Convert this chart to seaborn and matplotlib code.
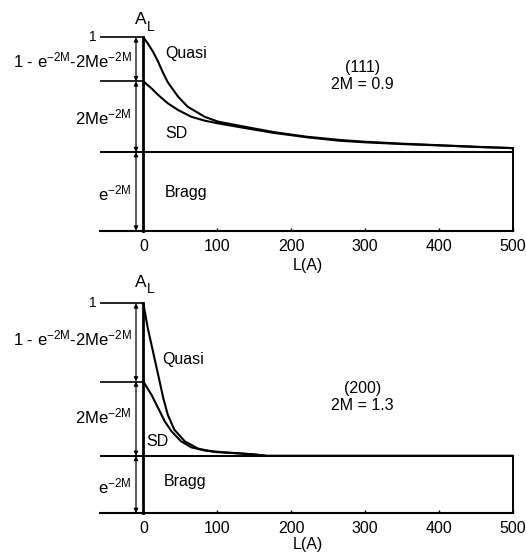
import matplotlib
matplotlib.use("Agg")
import matplotlib.pyplot as plt
import seaborn as sns
import pandas as pd

# ---------------- data ----------------
# top panel (111), 2M = 0.9
top_levels = [0.4066, 0.7725, 1.0]          # e^-2M, e^-2M + 2Me^-2M, 1
top_L_quasi = [0, 6, 13, 20, 27, 33, 47, 60, 83, 101, 131, 176, 221, 266, 300, 350, 400, 450, 500]
top_quasi = [1.0, 0.969, 0.926, 0.874, 0.814, 0.768, 0.693, 0.641, 0.589, 0.564, 0.542,
             0.510, 0.486, 0.469, 0.460, 0.450, 0.442, 0.434, 0.427]
top_L_sd = [0, 11, 20, 33, 47, 65, 83, 101, 131, 176, 221, 266, 300, 350, 400, 450, 500]
top_sd = [0.7725, 0.736, 0.702, 0.659, 0.624, 0.589, 0.569, 0.555, 0.535, 0.506, 0.483,
          0.465, 0.457, 0.448, 0.441, 0.433, 0.427]

# bottom panel (200), 2M = 1.3
bot_levels = [0.2725, 0.627, 1.0]
bot_L_quasi = [0, 6, 13, 20, 27, 33, 42, 56, 74, 96, 131, 150, 167, 500]
bot_quasi = [1.0, 0.882, 0.771, 0.660, 0.548, 0.469, 0.397, 0.342, 0.307, 0.291, 0.284,
             0.279, 0.2725, 0.2725]
bot_L_sd = [0, 11, 20, 29, 38, 51, 65, 83, 110, 131, 150, 167, 500]
bot_sd = [0.627, 0.564, 0.501, 0.437, 0.390, 0.342, 0.313, 0.298, 0.289, 0.284, 0.279,
          0.2725, 0.2725]

x_ticks = [0, 100, 200, 300, 400, 500]
panel_titles = ["(111)\n2M = 0.9", "(200)\n2M = 1.3"]
band_labels = ["1 - e$^{-2M}$-2Me$^{-2M}$", "2Me$^{-2M}$", "e$^{-2M}$"]
region_labels = ["Quasi", "SD", "Bragg"]
x_label = "L(A)"
y_label = "A"
y_sub = "L"

# ---------------- style ----------------
sns.set_style("white")
plt.rcParams["font.family"] = ["Liberation Sans", "DejaVu Sans"]
plt.rcParams["mathtext.default"] = "regular"
plt.rcParams["text.color"] = "black"
plt.rcParams["axes.labelcolor"] = "black"
plt.rcParams["xtick.color"] = "black"
FS = 11.5

fig = plt.figure(figsize=(5.26, 5.54), dpi=100)
ax_top = fig.add_axes([0.1797, 0.58357, 0.8097, 0.34910])
ax_bot = fig.add_axes([0.1797, 0.07401, 0.8097, 0.37852])

XMIN_LINE = -58.5
ARROW_X = -9.9


def draw_panel(ax, levels, Lq, q, Ls, s, title, title_y, text_pos, band_y, al_y, lpad):
    df_q = pd.DataFrame({"L": Lq, "A": q})
    df_s = pd.DataFrame({"L": Ls, "A": s})
    sns.lineplot(data=df_q, x="L", y="A", ax=ax, color="black", lw=1.5,
                 estimator=None, sort=False)
    sns.lineplot(data=df_s, x="L", y="A", ax=ax, color="black", lw=1.5,
                 estimator=None, sort=False)
    ax.set_xlim(-66, 510)
    ax.set_ylim(0, 1)

    bragg, sdl, one = levels
    ax.hlines(bragg, XMIN_LINE, x_ticks[-1], color="black", lw=1.4, clip_on=False)
    ax.hlines([sdl, one], XMIN_LINE, 0, color="black", lw=1.2, clip_on=False)
    ax.vlines(x_ticks[-1], 0, q[-1], color="black", lw=1.4, clip_on=False)

    bounds = [0, bragg, sdl, one]
    for lo, hi in zip(bounds[:-1], bounds[1:]):
        ax.annotate("", xy=(ARROW_X, hi), xytext=(ARROW_X, lo),
                    arrowprops=dict(arrowstyle="<|-|>", lw=0.9, color="black",
                                    mutation_scale=6, shrinkA=0, shrinkB=0),
                    annotation_clip=False)

    for sp in ["top", "right"]:
        ax.spines[sp].set_visible(False)
    ax.spines["left"].set_position(("data", 0))
    ax.spines["left"].set_bounds(0, 1)
    ax.spines["left"].set_linewidth(2.0)
    ax.spines["left"].set_color("black")
    ax.spines["bottom"].set_bounds(XMIN_LINE, x_ticks[-1])
    ax.spines["bottom"].set_linewidth(1.5)
    ax.spines["bottom"].set_color("black")
    ax.set_yticks([])
    ax.set_xticks(x_ticks)
    ax.set_xticklabels([str(t) for t in x_ticks])
    ax.tick_params(axis="x", direction="in", length=2.5, width=1, pad=6,
                   labelsize=FS, colors="black", bottom=True)
    ax.set_xlabel(x_label, fontsize=FS, labelpad=lpad)
    ax.set_ylabel("")

    ax.text(-4, al_y[0], y_label, fontsize=12.5, ha="center", va="center")
    ax.text(9.5, al_y[1], y_sub, fontsize=10, ha="center", va="center")
    ax.text(-63, one, "1", fontsize=FS * 0.85, ha="right", va="center")
    for lab, yy in zip(band_labels, band_y):
        ax.text(-15.5, yy, lab, fontsize=12, ha="right", va="center")
    for lab, (tx, ty) in zip(region_labels, text_pos):
        ax.text(tx, ty, lab, fontsize=FS, ha="left", va="center")
    ax.text(296, title_y, title, fontsize=FS, ha="center", va="center",
            linespacing=1.15)


draw_panel(ax_top, top_levels, top_L_quasi, top_quasi, top_L_sd, top_sd,
           panel_titles[0], 0.80,
           [(29, 0.917), (29, 0.504), (29, 0.195)],
           [0.88, 0.585, 0.195], (1.09, 1.055), 3)
draw_panel(ax_bot, bot_levels, bot_L_quasi, bot_quasi, bot_L_sd, bot_sd,
           panel_titles[1], 0.555,
           [(25, 0.73), (4.6, 0.34), (27, 0.149)],
           [0.83, 0.462, 0.125], (1.097, 1.066), 0.5)

fig.savefig("out.png", dpi=100)
